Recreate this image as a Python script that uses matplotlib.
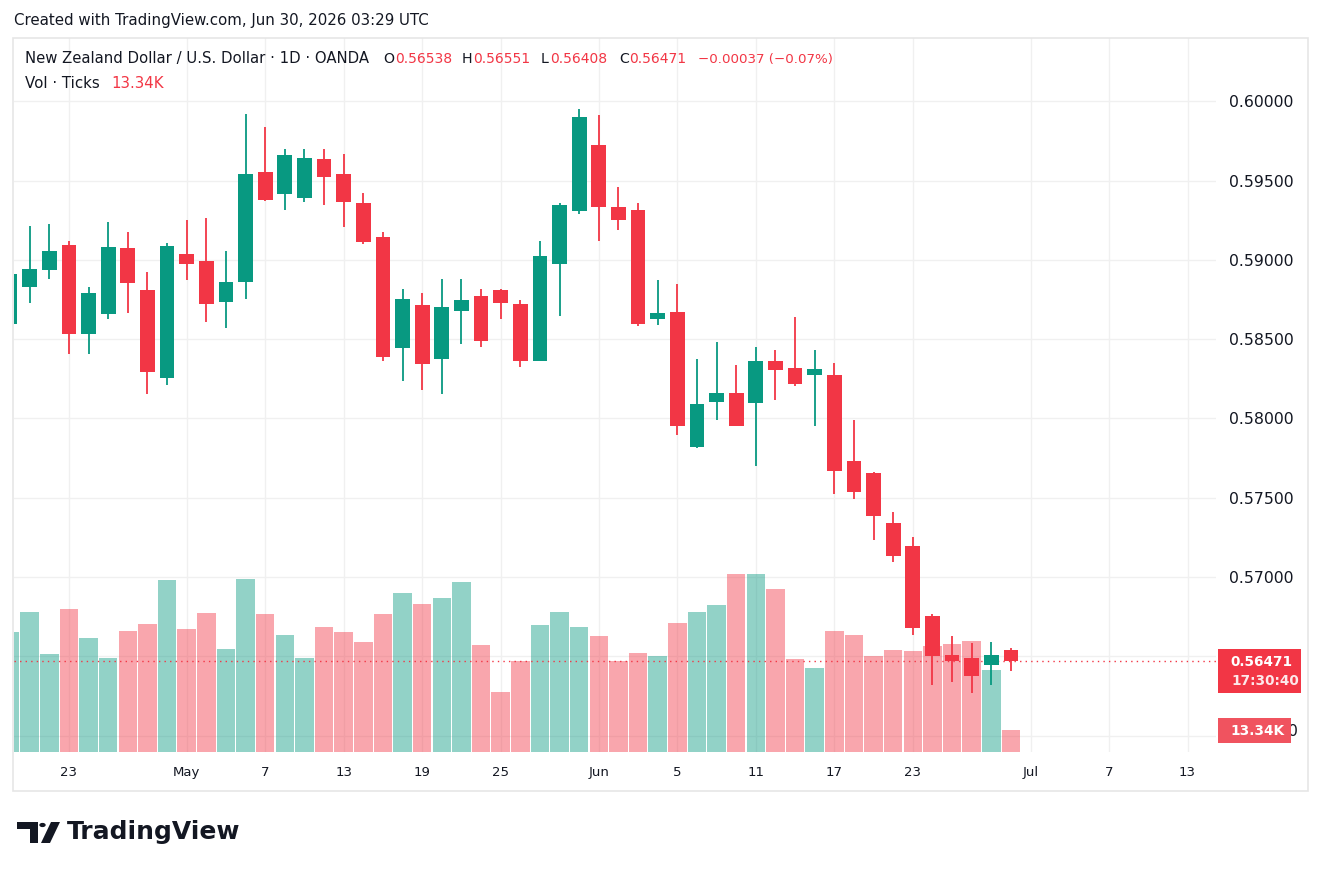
import matplotlib.pyplot as plt
from matplotlib.patches import Rectangle, Polygon, Circle

# daily bars, NZD/USD (OANDA), Apr 20 - Jun 30 2026
dates = ["Apr 20", "Apr 21", "Apr 22", "Apr 23", "Apr 24", "Apr 27", "Apr 28", "Apr 29", "Apr 30",
         "May 1", "May 4", "May 5", "May 6", "May 7", "May 8", "May 11", "May 12", "May 13", "May 14",
         "May 15", "May 18", "May 19", "May 20", "May 21", "May 22", "May 25", "May 26", "May 27",
         "May 28", "May 29", "Jun 1", "Jun 2", "Jun 3", "Jun 4", "Jun 5", "Jun 8", "Jun 9", "Jun 10",
         "Jun 11", "Jun 12", "Jun 15", "Jun 16", "Jun 17", "Jun 18", "Jun 19", "Jun 22", "Jun 23",
         "Jun 24", "Jun 25", "Jun 26", "Jun 29", "Jun 30"]

opens = [0.58593, 0.58826, 0.58934, 0.59096, 0.58530, 0.58656, 0.59077, 0.58812, 0.58252,
         0.59039, 0.58995, 0.58732, 0.58858, 0.59551, 0.59414, 0.59388, 0.59633, 0.59538, 0.59355,
         0.59146, 0.58441, 0.58717, 0.58372, 0.58675, 0.58774, 0.58812, 0.58723, 0.58359,
         0.58972, 0.59306, 0.59721, 0.59330, 0.59311, 0.58624, 0.58673, 0.57822, 0.58106, 0.58161,
         0.58094, 0.58364, 0.58320, 0.58271, 0.58276, 0.57729, 0.57653, 0.57339, 0.57194,
         0.56754, 0.56508, 0.56490, 0.56448, 0.56538]
highs = [0.58960, 0.59210, 0.59228, 0.59121, 0.58831, 0.59241, 0.59178, 0.58925, 0.59108,
         0.59254, 0.59266, 0.59058, 0.59917, 0.59835, 0.59696, 0.59696, 0.59696, 0.59664, 0.59424,
         0.59178, 0.58818, 0.58793, 0.58881, 0.58881, 0.58818, 0.58818, 0.58749, 0.59121,
         0.59361, 0.59948, 0.59910, 0.59456, 0.59355, 0.58875, 0.58850, 0.58372, 0.58479, 0.58334,
         0.58448, 0.58433, 0.58640, 0.58433, 0.58351, 0.57993, 0.57659, 0.57408, 0.57251,
         0.56766, 0.56628, 0.56586, 0.56590, 0.56551]
lows = [0.58560, 0.58725, 0.58877, 0.58403, 0.58403, 0.58624, 0.58662, 0.58151, 0.58208,
        0.58871, 0.58605, 0.58567, 0.58751, 0.59369, 0.59313, 0.59363, 0.59344, 0.59205, 0.59098,
        0.58359, 0.58233, 0.58176, 0.58151, 0.58466, 0.58448, 0.58624, 0.58321, 0.58359,
        0.58643, 0.59287, 0.59117, 0.59186, 0.58580, 0.58586, 0.57898, 0.57816, 0.57993, 0.57955,
        0.57703, 0.58114, 0.58202, 0.57951, 0.57523, 0.57492, 0.57234, 0.57095, 0.56636,
        0.56316, 0.56341, 0.56271, 0.56322, 0.56408]
closes = [0.58913, 0.58944, 0.59058, 0.58530, 0.58793, 0.59083, 0.58852, 0.58290, 0.59090,
          0.58972, 0.58719, 0.58862, 0.59544, 0.59376, 0.59658, 0.59639, 0.59521, 0.59363, 0.59111,
          0.58384, 0.58755, 0.58346, 0.58704, 0.58749, 0.58485, 0.58725, 0.58365, 0.59026,
          0.59348, 0.59898, 0.59332, 0.59250, 0.58593, 0.58666, 0.57949, 0.58092, 0.58161, 0.57955,
          0.58365, 0.58303, 0.58215, 0.58313, 0.57668, 0.57536, 0.57385, 0.57133, 0.56680,
          0.56504, 0.56473, 0.56378, 0.56508, 0.56471]
# tick volume, thousands
volumes = [72.8, 84.9, 59.4, 86.7, 69.1, 57.0, 73.4, 77.6, 104.3, 74.6,
           84.3, 62.4, 104.9, 83.7, 70.9, 57.0, 75.8, 72.8, 66.7, 83.7,
           96.4, 89.7, 93.4, 103.1, 64.9, 36.4, 55.2, 77.0, 84.9, 75.8,
           70.3, 55.2, 60.0, 58.2, 78.2, 84.9, 89.1, 107.9, 107.9, 98.8,
           56.4, 50.9, 73.4, 70.9, 58.2, 61.8, 61.2, 64.3, 65.5, 67.3,
           49.7, 13.34]

# bar index of each date label (Jul ones are future slots)
xtick_pos = [3, 9, 13, 17, 21, 25, 30, 34, 38, 42, 46, 52, 56, 60]
xtick_labels = ["23", "May", "7", "13", "19", "25", "Jun", "5", "11", "17", "23", "Jul", "7", "13"]
ytick_vals = [0.560, 0.565, 0.570, 0.575, 0.580, 0.585, 0.590, 0.595, 0.600]
# 0.56500 and 0.56000 sit under the last-price / volume badges
ytick_labels = ["", "", "0.57000", "0.57500", "0.58000", "0.58500", "0.59000", "0.59500", "0.60000"]

UP = "#089981"
DOWN = "#F23645"
TXT = "#131722"
GRID = "#f0f0f0"

W, H = 1322, 874
fig = plt.figure(figsize=(W / 100, H / 100), dpi=100)


def fx(px):
    return px / W


def fy(py):
    return 1 - py / H


rect = [fx(14), fy(752), (1216 - 14) / W, (752 - 38) / H]
xlim = (0.2, 61.45)
ylim = (0.558966, 0.603985)

# bottom layer: grid
axg = fig.add_axes(rect)
axg.set_xlim(xlim)
axg.set_ylim(ylim)
axg.set_xticks(xtick_pos)
axg.set_yticks(ytick_vals)
axg.grid(True, color=GRID, lw=1)
axg.tick_params(length=0, labelbottom=False, labelleft=False)
for s in axg.spines.values():
    s.set_visible(False)

# middle layer: volume overlay
axv = fig.add_axes(rect)
axv.patch.set_visible(False)
idx = list(range(len(dates)))
vol_colors = [(8 / 255, 153 / 255, 129 / 255, 0.44) if c >= o else (242 / 255, 54 / 255, 69 / 255, 0.44)
              for o, c in zip(opens, closes)]
axv.bar(idx, volumes, width=0.94, color=vol_colors, linewidth=0)
axv.set_xlim(xlim)
axv.set_ylim(0, 432.9)
axv.axis("off")

# top layer: candles
ax = fig.add_axes(rect)
ax.patch.set_visible(False)
colors = [UP if c >= o else DOWN for o, c in zip(opens, closes)]
ax.vlines(idx, lows, highs, colors=colors, lw=1.3, zorder=2)
bottoms = [min(o, c) for o, c in zip(opens, closes)]
heights = [abs(c - o) for o, c in zip(opens, closes)]
ax.bar(idx, heights, bottom=bottoms, width=0.75, color=colors, linewidth=0, zorder=3)
ax.axhline(closes[-1], color=DOWN, lw=1, ls=(0, (1, 3)), zorder=1)
ax.set_xlim(xlim)
ax.set_ylim(ylim)
for s in ax.spines.values():
    s.set_visible(False)
ax.set_xticks(xtick_pos)
ax.set_xticklabels(xtick_labels)
ax.set_yticks(ytick_vals)
ax.set_yticklabels(ytick_labels)
ax.yaxis.tick_right()
ax.tick_params(axis="x", length=0, pad=10, labelsize=9.5, labelcolor=TXT)
ax.tick_params(axis="y", length=0, pad=9, labelsize=11.3, labelcolor=TXT)

# chart frame
fig.patches.append(Rectangle((fx(13), fy(791)), (1308 - 13) / W, (791 - 38) / H, transform=fig.transFigure,
                             fill=False, edgecolor="#e6e6e6", lw=1.2))

# last price / volume badges on the scale
fig.text(fx(1288), fy(731), "0", color=TXT, fontsize=11.3, va="center", ha="left", zorder=0.5)
fig.patches.append(Rectangle((fx(1218), fy(693)), 83 / W, 44 / H, transform=fig.transFigure,
                             color=DOWN, lw=0))
fig.text(fx(1230), fy(662), "0.56471", color="white", fontsize=9.8, fontweight="bold", va="center", ha="left")
fig.text(fx(1231), fy(681), "17:30:40", color="#fde8ea", fontsize=9.8, fontweight="bold", va="center", ha="left")
fig.patches.append(Rectangle((fx(1218), fy(743)), 73 / W, 25 / H, transform=fig.transFigure,
                             color="#f0535f", lw=0))
fig.text(fx(1230), fy(731), "13.34K", color="white", fontsize=9.8, fontweight="bold", va="center", ha="left")

# header
fig.text(fx(14), fy(20), "Created with TradingView.com, Jun 30, 2026 03:29 UTC", color=TXT,
         fontsize=10.8, va="center", ha="left")
header = [(25, "New Zealand Dollar / U.S. Dollar · 1D · OANDA", TXT, 10.7),
          (383, "O", TXT, 10.2), (395, "0.56538", DOWN, 10.0),
          (462, "H", TXT, 10.2), (473, "0.56551", DOWN, 10.0),
          (541, "L", TXT, 10.2), (550, "0.56408", DOWN, 10.0),
          (619, "C", TXT, 10.2), (629, "0.56471", DOWN, 10.0),
          (698, "−0.00037 (−0.07%)", DOWN, 9.6)]
for px, s, c, fs in header:
    fig.text(fx(px), fy(59), s, color=c, fontsize=fs, va="center", ha="left")
fig.text(fx(25), fy(83), "Vol · Ticks", color=TXT, fontsize=10.8, va="center", ha="left")
fig.text(fx(111), fy(83), "13.34K", color=DOWN, fontsize=10.8, va="center", ha="left")


# TradingView logo
def pts(lst):
    return [(fx(a), fy(b)) for a, b in lst]


logo = "#131722"
fig.patches.append(Polygon(pts([(17, 822), (38, 822), (38, 843), (30, 843), (30, 829), (17, 829)]),
                           closed=True, transform=fig.transFigure, color=logo, lw=0))
fig.patches.append(Circle((fx(42.5), fy(825)), 3.2 / W, transform=fig.transFigure, color=logo, lw=0))
fig.patches.append(Polygon(pts([(41, 843), (50, 843), (60, 822), (51, 822)]),
                           closed=True, transform=fig.transFigure, color=logo, lw=0))
fig.text(fx(67), fy(832), "TradingView", color=logo, fontsize=18, fontweight="bold", va="center", ha="left")

fig.savefig("out.png", dpi=100, facecolor="white")
